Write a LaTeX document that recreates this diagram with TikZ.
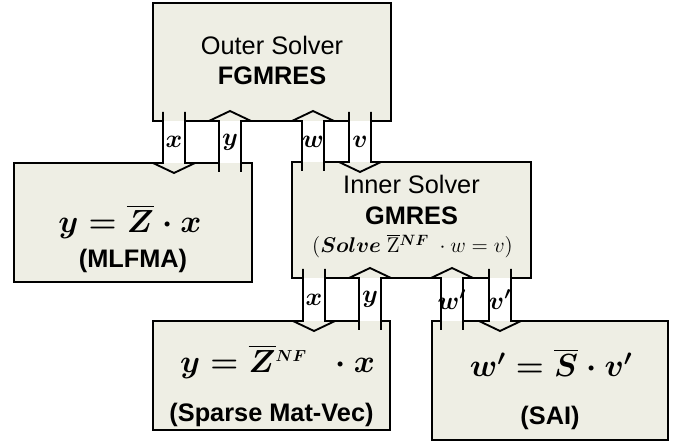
\RequirePackage{fix-cm}
\documentclass[tikz,border=0pt]{standalone}
\usepackage{amsmath}
\usepackage[no-math]{fontspec}
\setmainfont{Liberation Sans}
\usepackage{tikz}
\usetikzlibrary{calc}

\definecolor{boxfill}{RGB}{238,238,228}

\tikzset{
  solver/.style={draw, line width=1.7pt, fill=boxfill, anchor=north west, inner sep=0pt, outer sep=0pt},
  solvername/.style={font=\fontsize{19}{22}\selectfont, anchor=base, inner sep=0pt},
  solvertitle/.style={font=\fontsize{19}{22}\selectfont\bfseries, anchor=base, inner sep=0pt},
  eq/.style={font=\fontsize{24}{28}\selectfont\boldmath, anchor=base, inner sep=0pt},
  lab/.style={font=\fontsize{19}{22}\selectfont\boldmath, inner sep=0pt},
  flow/.style={line width=1.4pt, line join=miter},
}

\begin{document}
\begin{tikzpicture}[x=0.75pt, y=-0.75pt]
\useasboundingbox (0,0) rectangle (679,441);

% solver boxes
\node[solver, minimum width=178.5pt, minimum height=88.5pt] (outer) at (153,3) {};
\node[solver, minimum width=178.5pt, minimum height=89.25pt] (mlfma) at (14,163) {};
\node[solver, minimum width=179.25pt, minimum height=87pt] (inner) at (292,162) {};
\node[solver, minimum width=177.75pt, minimum height=81.75pt] (sparse) at (153,321) {};
\node[solver, minimum width=177pt, minimum height=89.25pt] (sai) at (432,321) {};

% texts
\node[solvername] (outername) at ($(outer.north)+(0,52)$) {Outer Solver};
\node[solvertitle] (outertitle) at ($(outer.north)+(0,82)$) {FGMRES};
\node[eq] (mlfmaeq) at ($(mlfma.north)+(-3,70)$) {$y = \overline{Z}\cdot x$};
\node[solvertitle] (mlfmaname) at ($(mlfma.north)+(0,105)$) {(MLFMA)};
\node[solvername] (innername) at ($(inner.north)+(0,32)$) {Inner Solver};
\node[solvertitle] (innertitle) at ($(inner.north)+(0,63)$) {GMRES};
\node[anchor=base, inner sep=0pt, font=\fontsize{16}{18}\selectfont] (innereq) at ($(inner.north)+(1,91)$)
  {$(\boldsymbol{Solve}\ \overline{\mathrm{Z}}{}^{\boldsymbol{NF}}\;\cdot w = v)$};
\node[eq] (sparseeq) at ($(sparse.north)+(6,52)$) {$y = \overline{Z}{}^{\scriptscriptstyle NF}\;\;\cdot x$};
\node[solvertitle] (sparsename) at ($(sparse.north)+(0,101)$) {(Sparse Mat-Vec)};
\node[eq] (saieq) at ($(sai.north)+(1,56)$) {$w' = \overline{S}\cdot v'$};
\node[solvertitle] (sainame) at ($(sai.north)+(0,104)$) {(SAI)};

% block arrows between solvers
\foreach \cx/\src/\dst/\sgn/\lab in {174/outer.south/mlfma.north/1/x, 230/mlfma.north/outer.south/-1/y,
    313/inner.north/outer.south/-1/w, 360/outer.south/inner.north/1/v,
    314/inner.south/sparse.north/1/x, 370/sparse.north/inner.south/-1/y,
    452/sai.north/inner.south/-1/w', 500/inner.south/sai.north/1/v'}
{
  \coordinate (s) at (\cx,0 |- \src);
  \coordinate (t) at (\cx,0 |- \dst);
  \fill[boxfill] ($(s)+(-11,{-9*\sgn})$) -- ($(t)+(-11,0)$) -- ($(t)+(-21,0)$) -- ($(t)+(0,{10*\sgn})$)
    -- ($(t)+(21,0)$) -- ($(t)+(11,0)$) -- ($(s)+(11,{-9*\sgn})$) -- cycle;
  \fill[white] ($(s)+(-10,0)$) rectangle ($(t)+(10,0)$);
  \draw[flow] ($(s)+(-11,{-9*\sgn})$) -- ($(t)+(-11,0)$) -- ($(t)+(-21,0)$) -- ($(t)+(0,{10*\sgn})$)
    -- ($(t)+(21,0)$) -- ($(t)+(11,0)$) -- ($(s)+(11,{-9*\sgn})$);
  \node[lab] (l\cx) at ($(s)!0.5!(t)$) {$\lab$};
}
\end{tikzpicture}
\end{document}
